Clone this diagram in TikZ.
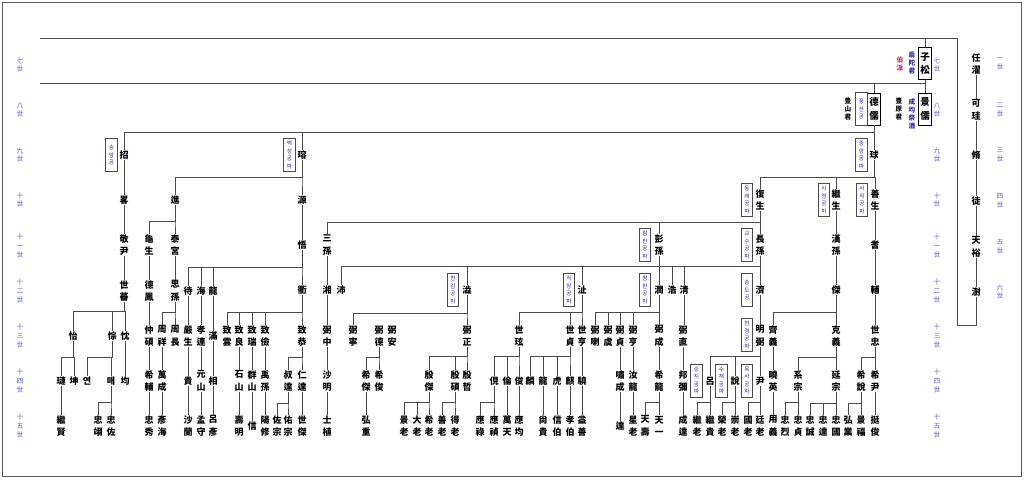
\documentclass[tikz,border=0pt]{standalone}
\usepackage{fontspec}
\newfontfamily\cjk{Noto Sans CJK KR}
\usetikzlibrary{calc}
\definecolor{gen}{HTML}{6464D2}
\definecolor{hg}{HTML}{2A2AA8}
\definecolor{ln}{HTML}{4A4A4A}
\definecolor{pred}{HTML}{C0306A}
\tikzset{
  nm/.style={font=\cjk\bfseries\fontsize{9}{12.5}\selectfont, align=center, inner sep=0.6pt},
  lab/.style={font=\cjk\fontsize{6.8}{8.6}\selectfont, text=gen, align=center, inner sep=0pt},
  pa/.style={draw=ln, line width=0.7pt, font=\cjk\fontsize{5.6}{7.6}\selectfont, text=hg, align=center, minimum width=11.5pt, minimum height=33pt, inner sep=0pt},
  bx/.style={draw=black, line width=0.8pt, font=\cjk\bfseries\fontsize{9.5}{13.5}\selectfont, align=center, minimum width=13pt, minimum height=32pt, inner sep=0pt},
  note/.style={font=\cjk\bfseries\fontsize{6.6}{8.2}\selectfont, align=center, inner sep=0pt},
  cn/.style={draw=ln, line width=0.6pt}
}
\newcommand\N[4]{\node[nm] (#1) at (#2,#3) {#4};}
\newcommand\Fam[3]{\foreach \c in {#3}{\draw[cn] (#1.south) |- (\c.north |- 0,#2) -- (\c.north);}}
\newcommand\dl[2]{\draw[cn] (#1.south) -- (#1.south |- #2.north);}
\begin{document}
\begin{tikzpicture}[x=1pt,y=-1pt]
\useasboundingbox (0,0) rectangle (1024,479);
\draw[gray!70!black, line width=1pt] (2.5,2.5) rectangle (1021.5,476.5);

% generation labels
\foreach \t/\y in {七\\世/65, 八\\世/110, 九\\世/155, 十\\世/200, 十\\一\\世/246, 十\\二\\世/291, 十\\三\\世/336, 十\\四\\世/381, 十\\五\\世/426}{
  \node[lab] at (20,\y) {\t};
  \node[lab] at (937,\y) {\t};
}
\foreach \t/\y in {一\\世/64, 二\\世/110, 三\\世/155, 四\\世/201, 五\\世/247, 六\\世/292}{
  \node[lab] at (1000,\y) {\t};
}

% 1-6 generations
\N{rz}{976}{64}{任\\濯}
\N{kg}{976}{110}{可\\珪}
\N{xiu}{976}{155}{脩}
\N{tu}{976}{201}{徒}
\N{ty}{976}{247}{天\\裕}
\N{shu}{976}{292}{澍}
\dl{rz}{kg}\dl{kg}{xiu}\dl{xiu}{tu}\dl{tu}{ty}\dl{ty}{shu}

% 7-8 generations
\node[bx] (zsong) at (925,63.5) {子\\松};
\node[bx] (der) at (874,109) {德\\儒};
\node[bx] (jr) at (925,109) {景\\儒};
\node[pa] at (861.5,109) {풍\\산\\공};
\node[note] at (848,109) {豊\\山\\君};
\node[note] at (899,109) {豊\\原\\君};
\node[note, text=hg] at (912,114) {成\\均\\祭\\酒};
\node[note, text=hg] at (912,63) {扇\\陀\\君};
\node[note, text=pred] at (900,64) {伯\\派};

\coordinate (c1) at (976,325);
\coordinate (c2) at (957,325);
\coordinate (c3) at (957,38);
\coordinate (L1) at (40,38);
\coordinate (L2) at (40,83);
\draw[cn] (shu.south) -- (c1) -- (c2) -- (c3) -| (zsong.north);
\draw[cn] (L1) -- (c3);
\Fam{zsong}{83}{der,jr}
\draw[cn] (L2) -- (der.north |- L2);

% row 9
\N{zhao}{124}{155}{招}
\N{rong}{302}{155}{瑢}
\N{qiu}{874}{155}{球}
\node[pa] at (111.5,155) {송\\암\\공};
\node[pa] at (289.5,155) {백\\성\\공\\파};
\node[pa] at (861.5,155) {중\\랑\\공\\파};
\Fam{der}{132}{zhao,rong,qiu}

% row 10
\N{lue}{124}{200}{畧}
\N{jin}{175}{200}{進}
\N{yuan}{302}{200}{源}
\N{fus}{760}{200}{復\\生}
\N{jis}{836}{200}{繼\\生}
\N{shs}{875}{200}{善\\生}
\node[pa] at (747,200) {동\\래\\공\\파};
\node[pa] at (824,200) {사\\정\\공\\파};
\node[pa] at (862,200) {사\\직\\공\\파};
\dl{zhao}{lue}
\Fam{rong}{177}{jin,yuan}
\Fam{qiu}{177}{fus,jis,shs}

% row 11
\N{jy}{124}{245}{敬\\尹}
\N{gs}{149}{245}{龜\\生}
\N{tg}{175}{245}{泰\\宮}
\N{wu}{302}{245}{悟}
\N{ss}{327}{245}{三\\孫}
\N{ps}{659}{245}{彭\\孫}
\N{cs}{760}{245}{長\\孫}
\N{hs}{836}{245}{漢\\孫}
\N{qi}{875}{245}{耆}
\node[pa] at (645,245) {참\\판\\공\\파};
\node[pa] at (747,245) {교\\수\\공\\파};
\dl{lue}{jy}
\Fam{jin}{221}{gs,tg}
\dl{yuan}{wu}
\Fam{fus}{222}{ss,ps,cs}
\dl{jis}{hs}
\dl{shs}{qi}

% row 12
\N{sf}{124}{291}{世\\蕃}
\N{df}{149}{291}{德\\鳳}
\N{sis}{175}{291}{思\\孫}
\N{dai}{188}{291}{待}
\N{hai}{201}{291}{海}
\N{long}{213}{291}{龍}
\N{qu}{302}{290}{衢}
\N{xiang}{327}{290}{湘}
\N{pei}{341}{290}{沛}
\N{se}{467}{290}{澁}
\N{zhi}{582}{290}{沚}
\N{run}{659}{290}{潤}
\N{hao}{672}{290}{浩}
\N{qing}{684}{290}{淸}
\N{ji}{760}{290}{濟}
\N{jie}{836}{290}{傑}
\N{fu}{875}{290}{輔}
\node[pa] at (453,290) {현\\감\\공\\파};
\node[pa] at (569,290) {직\\장\\공\\파};
\node[pa] at (645,290) {참\\판\\공\\파};
\node[pa] at (747,290) {송\\도\\공};
\dl{jy}{sf}
\dl{gs}{df}
\dl{tg}{sis}
\Fam{wu}{267}{dai,hai,long,qu}
\dl{ss}{xiang}
\dl{ps}{run}
\Fam{cs}{266}{pei,se,zhi,hao,qing,ji}
\dl{hs}{jie}
\dl{qi}{fu}

% row 13
\N{yi}{73}{336}{怡}
\N{cong}{112}{336}{悰}
\N{chen}{125}{336}{忱}
\N{zs}{149}{336}{仲\\碩}
\N{zx}{162}{336}{周\\祥}
\N{zc}{175}{336}{周\\長}
\N{ys}{188}{336}{嚴\\生}
\N{xl}{201}{336}{孝\\連}
\N{man}{213}{336}{滿}
\N{zy}{227}{336}{致\\雲}
\N{zl}{239}{336}{致\\良}
\N{zr}{252}{336}{致\\瑞}
\N{zj}{265}{336}{致\\儉}
\N{zg}{302}{336}{致\\恭}
\N{bz}{327}{336}{弼\\中}
\N{bn}{353}{336}{弼\\寧}
\N{bd}{379}{336}{弼\\德}
\N{ba}{392}{336}{弼\\安}
\N{bzh}{467}{336}{弼\\正}
\N{sx}{519}{336}{世\\玹}
\N{szn}{570}{336}{世\\貞}
\N{sh}{582}{336}{世\\亨}
\N{bl}{595}{336}{弼\\喇}
\N{byu}{608}{336}{弼\\虞}
\N{bzn}{620}{336}{弼\\貞}
\N{bh}{633}{336}{弼\\亨}
\N{bc}{659}{336}{弼\\成}
\N{bzi}{683}{336}{弼\\直}
\N{mb}{760}{336}{明\\弼}
\N{qy}{773}{336}{齊\\義}
\N{ky}{836}{336}{克\\義}
\N{szh}{875}{336}{世\\忠}
\node[pa] at (747,335) {현\\령\\공\\파};
\Fam{sf}{311}{yi,cong,chen}
\dl{df}{zs}
\Fam{sis}{312}{zx,zc}
\dl{dai}{ys}
\dl{hai}{xl}
\dl{long}{man}
\Fam{qu}{312}{zy,zl,zr,zj,zg}
\dl{xiang}{bz}
\Fam{se}{313}{bn,bzh}
\Fam{zhi}{312}{sx,szn,sh}
\Fam{run}{312}{bl,byu,bzn,bh,bc}
\dl{qing}{bzi}
\dl{ji}{mb}
\Fam{jie}{312}{qy,ky}
\dl{fu}{szh}

% row 14
\N{lian}{61}{381}{璉}
\N{kun}{74}{381}{坤}
\N{yeon}{87}{381}{연}
\N{mae}{111}{381}{매}
\N{jun}{125}{381}{均}
\N{xf}{149}{381}{希\\輔}
\N{wc}{162}{381}{萬\\成}
\N{gui}{188}{381}{貴}
\N{ysh}{201}{381}{元\\山}
\N{xiang2}{213}{381}{相}
\N{shi}{239}{381}{石\\山}
\N{qs}{252}{381}{群\\山}
\N{yus}{265}{381}{禹\\孫}
\N{shd}{288}{381}{叔\\達}
\N{rd}{302}{381}{仁\\達}
\N{sm}{327}{381}{沙\\明}
\N{xj}{366}{381}{希\\傑}
\N{xjun}{379}{381}{希\\俊}
\N{yj}{429}{381}{殷\\傑}
\N{ysu}{455}{381}{殷\\碩}
\N{yz}{467}{381}{殷\\哲}
\N{xian}{494}{381}{俔}
\N{lun}{507}{381}{倫}
\N{jun2}{519}{381}{俊}
\N{lin}{530}{381}{麟}
\N{long2}{543}{381}{龍}
\N{hu}{557}{381}{虎}
\N{qil}{570}{381}{麒}
\N{xiao}{582}{381}{驍}
\N{xc}{620}{381}{嘯\\成}
\N{rl}{633}{381}{汝\\龍}
\N{xl2}{659}{381}{希\\龍}
\N{bm}{683}{381}{邦\\彌}
\N{lv}{710}{381}{呂}
\N{shuo}{735}{381}{說}
\N{yin}{760}{381}{尹}
\N{xy}{773}{381}{曉\\英}
\N{xz}{798}{381}{系\\宗}
\N{yzo}{836}{381}{延\\宗}
\N{xs}{861}{381}{希\\說}
\N{xyin}{875}{381}{希\\尹}
\node[pa] at (696.5,380.5) {승\\지\\공\\파};
\node[pa] at (721.5,380.5) {수\\재\\공\\파};
\node[pa] at (747,380.5) {목\\사\\공\\파};
\Fam{yi}{357}{lian,kun}
\Fam{cong}{357}{yeon,mae}
\dl{chen}{jun}
\dl{zs}{xf}
\dl{zx}{wc}
\dl{ys}{gui}
\dl{xl}{ysh}
\dl{man}{xiang2}
\dl{zl}{shi}
\dl{zr}{qs}
\dl{zj}{yus}
\Fam{zg}{357}{shd,rd}
\dl{bz}{sm}
\Fam{bd}{357}{xj,xjun}
\Fam{bzh}{356}{yj,ysu,yz}
\Fam{sx}{356}{xian,lun,jun2}
\Fam{szn}{356}{lin,long2,hu,qil}
\dl{sh}{xiao}
\dl{bzn}{xc}
\dl{bh}{rl}
\dl{bc}{xl2}
\dl{bzi}{bm}
\Fam{mb}{356}{lv,shuo,yin}
\dl{qy}{xy}
\Fam{ky}{357}{xz,yzo}
\Fam{szh}{357}{xs,xyin}

% row 15
\N{jx}{61}{426}{繼\\賢}
\N{zyi}{98}{426}{忠\\翊}
\N{zzu}{111}{426}{忠\\佐}
\N{zxiu}{149}{426}{忠\\秀}
\N{yh}{162}{426}{彥\\海}
\N{sl}{188}{426}{沙\\蘭}
\N{ms}{201}{426}{孟\\守}
\N{ly}{213}{426}{呂\\彥}
\N{shm}{239}{426}{壽\\明}
\N{xin}{252}{426}{信}
\N{yxi}{265}{426}{陽\\修}
\N{zuoz}{277}{426}{佐\\宗}
\N{youz}{288}{426}{佑\\宗}
\N{sj}{302}{426}{世\\傑}
\N{szi}{327}{426}{士\\植}
\N{hz}{366}{426}{弘\\重}
\N{jl}{404}{426}{景\\老}
\N{dl}{417}{426}{大\\老}
\N{xlao}{429}{426}{希\\老}
\N{sla}{442}{426}{善\\老}
\N{dla}{455}{426}{得\\老}
\N{yl}{480}{426}{應\\祿}
\N{yzh}{494}{426}{應\\禎}
\N{wt}{507}{426}{萬\\天}
\N{yjun}{519}{426}{應\\均}
\N{sg}{543}{426}{尙\\貴}
\N{xb}{557}{426}{信\\伯}
\N{xbo}{570}{426}{孝\\伯}
\N{ys2}{582}{426}{益\\善}
\N{da}{620}{426}{達}
\N{xla}{633}{426}{星\\老}
\N{tsh}{645}{426}{天\\壽}
\N{tyi}{659}{426}{天\\一}
\N{cd}{683}{426}{成\\達}
\N{jla}{697}{426}{繼\\老}
\N{jg}{710}{426}{繼\\貴}
\N{rla}{722}{426}{榮\\老}
\N{cla}{735}{426}{崇\\老}
\N{gla}{748}{426}{國\\老}
\N{tla}{760}{426}{廷\\老}
\N{yyi}{773}{426}{用\\義}
\N{zl1}{785}{426}{忠\\烈}
\N{zz1}{798}{426}{忠\\貞}
\N{zch}{810}{426}{忠\\誠}
\N{zda}{823}{426}{忠\\達}
\N{zgu}{836}{426}{忠\\國}
\N{hy}{848}{426}{弘\\業}
\N{jf}{861}{426}{景\\福}
\N{tj}{875}{426}{挺\\俊}
\dl{lian}{jx}
\Fam{mae}{402}{zyi,zzu}
\dl{xf}{zxiu}
\dl{wc}{yh}
\dl{gui}{sl}
\dl{ysh}{ms}
\dl{xiang2}{ly}
\dl{shi}{shm}
\dl{qs}{xin}
\dl{yus}{yxi}
\Fam{shd}{403}{zuoz,youz}
\dl{rd}{sj}
\dl{sm}{szi}
\dl{xj}{hz}
\Fam{yj}{402}{jl,dl,xlao}
\Fam{ysu}{402}{sla,dla}
\Fam{xian}{402}{yl,yzh}
\dl{lun}{wt}
\dl{jun2}{yjun}
\dl{long2}{sg}
\dl{hu}{xb}
\dl{qil}{xbo}
\dl{xiao}{ys2}
\dl{xc}{da}
\dl{rl}{xla}
\Fam{xl2}{402}{tsh,tyi}
\dl{bm}{cd}
\Fam{lv}{402}{jla,jg}
\Fam{shuo}{402}{rla,cla}
\Fam{yin}{402}{gla,tla}
\dl{xy}{yyi}
\Fam{xz}{402}{zl1,zz1}
\Fam{yzo}{403}{zch,zda,zgu}
\Fam{xs}{403}{hy,jf}
\dl{xyin}{tj}
\end{tikzpicture}
\end{document}
